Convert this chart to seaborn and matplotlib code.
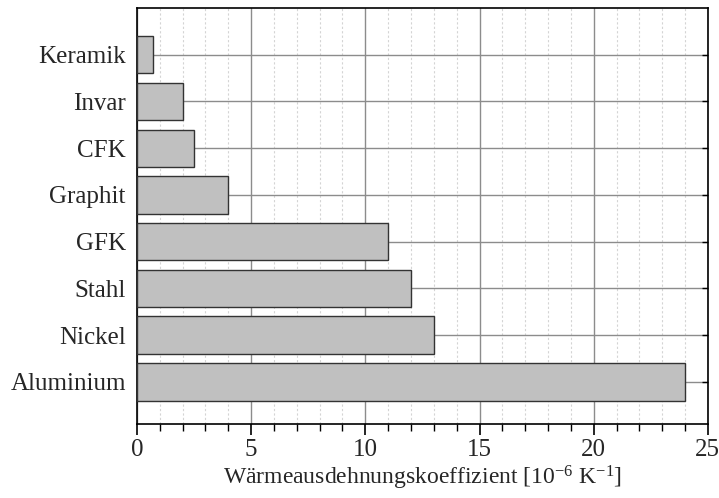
import matplotlib
matplotlib.use("Agg")
import matplotlib.pyplot as plt
import seaborn as sns
import pandas as pd
from matplotlib.ticker import MultipleLocator

materialien = ["Keramik", "Invar", "CFK", "Graphit", "GFK", "Stahl", "Nickel", "Aluminium"]
koeffizient = [0.7, 2.0, 2.5, 4.0, 11.0, 12.0, 13.0, 24.0]

df = pd.DataFrame({"Material": materialien, "Koeffizient": koeffizient})

sns.set_style("white")
plt.rcParams["font.family"] = ["Liberation Serif", "DejaVu Serif"]
plt.rcParams["mathtext.fontset"] = "custom"
plt.rcParams["mathtext.rm"] = "Liberation Serif"
plt.rcParams["mathtext.it"] = "Liberation Serif"

fig = plt.figure(figsize=(7.19, 4.98), dpi=100)
ax = fig.add_axes([0.1905, 0.1486, 0.794, 0.8354])

sns.barplot(data=df, x="Koeffizient", y="Material", order=materialien,
            color="#c0c0c0", saturation=1, width=0.8,
            edgecolor="#333333", linewidth=1.0, ax=ax, zorder=3)

ax.set_xlim(0, 25)
ax.set_ylim(7.9, -1)
ax.xaxis.set_major_locator(MultipleLocator(5))
ax.xaxis.set_minor_locator(MultipleLocator(1))

ax.grid(axis="x", which="major", color="#8c8c8c", linewidth=1.0, zorder=0)
ax.grid(axis="x", which="minor", color="#d4d4d4", linewidth=0.8, linestyle=(0, (2, 2)), zorder=0)
ax.grid(axis="y", which="major", color="#8c8c8c", linewidth=1.0, zorder=0)
ax.set_axisbelow(True)

for s in ax.spines.values():
    s.set_visible(True)
    s.set_color("black")
    s.set_linewidth(1.2)

ax.tick_params(axis="x", which="major", direction="out", length=8, width=1.2,
               labelsize=18, bottom=True, top=False, color="black", pad=3)
ax.tick_params(axis="x", which="minor", direction="out", length=5, width=1.0,
               bottom=True, top=False, color="black")
ax.tick_params(axis="y", which="major", direction="in", length=4, width=1.0,
               left=True, right=True, labelsize=18, color="black", pad=8)

ax.set_ylabel("")
ax.set_xlabel(r"Wärmeausdehnungskoeffizient [10$^{\mathrm{-6}}$ K$^{\mathrm{-1}}$]",
              fontsize=17, labelpad=2)

fig.savefig("out.png", dpi=100)
